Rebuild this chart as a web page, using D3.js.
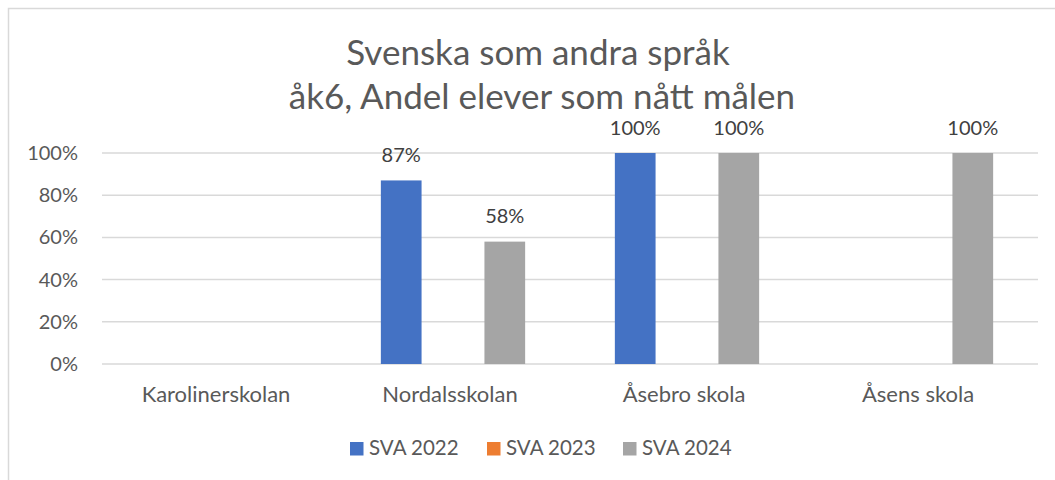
<!DOCTYPE html>
<html>
<head>
<meta charset="utf-8">
<script src="https://cdn.jsdelivr.net/npm/d3@7"></script>
<style>
  body { margin: 0; background: #fff; }
  svg text { font-family: Lato, "Open Sans", sans-serif; fill: #595959; }
</style>
</head>
<body>
<div id="chart"></div>
<script>
var schools = ["Karolinerskolan", "Nordalsskolan", "Åsebro skola", "Åsens skola"];
var seriesNames = ["SVA 2022", "SVA 2023", "SVA 2024"];
var sva2022 = [null, 0.87, 1.00, null];
var sva2023 = [null, null, null, null];
var sva2024 = [null, 0.58, 1.00, 1.00];
var yTicks = [0, 0.2, 0.4, 0.6, 0.8, 1.0];
var colors = ["#4472C4", "#ED7D31", "#A5A5A5"];

var W = 1055, H = 480;
var svg = d3.select("#chart").append("svg")
    .attr("width", W)
    .attr("height", H);

// chart frame (only left and top edge visible in crop)
svg.append("path")
    .attr("d", "M8.5," + H + "V8.5H" + W)
    .attr("fill", "none")
    .attr("stroke", "#D9D9D9")
    .attr("stroke-width", 1.5);

// title
svg.append("text")
    .attr("x", 538).attr("y", 65)
    .attr("text-anchor", "middle")
    .style("font-size", "35px")
    .text("Svenska som andra språk");
svg.append("text")
    .attr("x", 542).attr("y", 109)
    .attr("text-anchor", "middle")
    .style("font-size", "35px")
    .text("åk6, Andel elever som nått målen");

var plot = { left: 102, right: 1038, top: 153, bottom: 364 };

var x0 = d3.scaleBand().domain(schools).range([plot.left, plot.right]).padding(0);
var x1 = d3.scaleBand().domain(seriesNames)
    .range([44.85, x0.bandwidth() - 44.85])
    .paddingInner(0.214).paddingOuter(0);
var y = d3.scaleLinear().domain([0, 1]).range([plot.bottom, plot.top]);

// gridlines
svg.append("g").selectAll("line")
    .data(yTicks)
    .enter().append("line")
    .attr("x1", plot.left).attr("x2", plot.right)
    .attr("y1", function (d) { return y(d); })
    .attr("y2", function (d) { return y(d); })
    .attr("stroke", "#D9D9D9")
    .attr("stroke-width", 1.5);

// y axis labels
svg.append("g").selectAll("text")
    .data(yTicks)
    .enter().append("text")
    .attr("x", 78)
    .attr("y", function (d) { return y(d) + 7; })
    .attr("text-anchor", "end")
    .style("font-size", "20px")
    .text(function (d) { return d3.format(".0%")(d); });

// x axis labels
svg.append("g").selectAll("text")
    .data(schools)
    .enter().append("text")
    .attr("x", function (d) { return x0(d) + x0.bandwidth() / 2 - 3; })
    .attr("y", 402)
    .attr("text-anchor", "middle")
    .style("font-size", "22px")
    .text(function (d) { return d; });

// build rows for bars
var allSeries = [sva2022, sva2023, sva2024];
var rows = [];
allSeries.forEach(function (vals, si) {
    vals.forEach(function (v, ci) {
        if (v != null) rows.push({ school: schools[ci], series: seriesNames[si], value: v, color: colors[si] });
    });
});

svg.append("g").selectAll("rect")
    .data(rows)
    .enter().append("rect")
    .attr("x", function (d) { return x0(d.school) + x1(d.series); })
    .attr("y", function (d) { return y(d.value); })
    .attr("width", x1.bandwidth())
    .attr("height", function (d) { return y(0) - y(d.value); })
    .attr("fill", function (d) { return d.color; });

// data labels
svg.append("g").selectAll("text")
    .data(rows)
    .enter().append("text")
    .attr("x", function (d) { return x0(d.school) + x1(d.series) + x1.bandwidth() / 2; })
    .attr("y", function (d) { return y(d.value) - 18.5; })
    .attr("text-anchor", "middle")
    .style("font-size", "20px")
    .style("fill", "#404040")
    .text(function (d) { return d3.format(".0%")(d.value); });

// legend
var legendX = [350, 487, 623];
var legend = svg.append("g");
seriesNames.forEach(function (name, i) {
    legend.append("rect")
        .attr("x", legendX[i]).attr("y", 442)
        .attr("width", 13.5).attr("height", 13.5)
        .attr("fill", colors[i]);
    legend.append("text")
        .attr("x", legendX[i] + 19).attr("y", 455)
        .style("font-size", "20.5px")
        .text(name);
});
</script>
</body>
</html>
